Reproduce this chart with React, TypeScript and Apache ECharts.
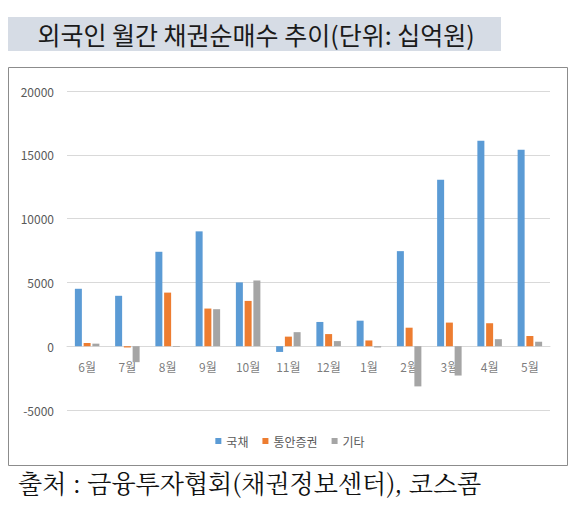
import React, { useEffect, useRef } from 'react';
import * as echarts from 'echarts';

const months = ['6월', '7월', '8월', '9월', '10월', '11월', '12월', '1월', '2월', '3월', '4월', '5월'];
const govBonds = [4500, 3950, 7400, 9000, 5000, -450, 1900, 2000, 7450, 13050, 16100, 15400];
const msb = [250, -100, 4200, 2950, 3550, 750, 950, 450, 1450, 1850, 1800, 800];
const others = [200, -1250, -50, 2900, 5150, 1100, 400, -100, -3150, -2300, 550, 350];
const seriesNames = ['국채', '통안증권', '기타'];
const seriesColors = ['#5b9bd5', '#ed7d31', '#a5a5a5'];

const SANS = '"Noto Sans CJK KR", "Noto Sans", sans-serif';

const App: React.FC = () => {
  const chartRef = useRef<HTMLDivElement | null>(null);

  useEffect(() => {
    if (!chartRef.current) return;
    const chart = echarts.init(chartRef.current, null, { renderer: 'svg' });

    const values = [govBonds, msb, others];

    const barSeries = seriesNames.map((name, i) => ({
      name,
      type: 'bar' as const,
      data: values[i],
      barWidth: 7,
      barGap: '25%',
      itemStyle: { color: seriesColors[i] },
      z: 3,
    }));

    // month labels sit just under the zero line, as in the original
    const monthLabels = {
      name: 'monthLabels',
      type: 'scatter' as const,
      data: months.map((m) => [m, 0]),
      symbolSize: 0,
      silent: true,
      z: 2,
      label: {
        show: true,
        position: 'bottom' as const,
        distance: 14,
        formatter: (p: any) => p.value[0],
        color: '#595959',
        fontSize: 12,
        fontFamily: SANS,
      },
    };

    const option: echarts.EChartsOption = {
      animation: false,
      backgroundColor: '#ffffff',
      textStyle: { fontFamily: SANS },
      graphic: [
        {
          type: 'rect',
          shape: { x: 8, y: 17, width: 493, height: 34 },
          style: { fill: '#d6dce5' },
          z: 0,
        },
        {
          type: 'text',
          x: 256,
          y: 34,
          style: {
            text: '외국인 월간 채권순매수 추이(단위: 십억원)',
            font: '25px ' + SANS,
            fill: '#1a1a1a',
            align: 'center',
            verticalAlign: 'middle',
          },
          z: 1,
        },
        {
          type: 'rect',
          shape: { x: 8.5, y: 67.5, width: 559, height: 398 },
          style: { fill: 'none', stroke: '#8c8c8c', lineWidth: 1 },
          z: 0,
        },
        {
          type: 'text',
          x: 18,
          y: 482,
          style: {
            text: '출처 : 금융투자협회(채권정보센터), 코스콤',
            font: '25px "Noto Serif CJK KR", serif, ' + SANS,
            fill: '#111111',
            align: 'left',
            verticalAlign: 'middle',
          },
          z: 1,
        },
      ],
      legend: {
        data: seriesNames,
        top: 430,
        left: 'center',
        icon: 'rect',
        itemWidth: 6,
        itemHeight: 6,
        itemGap: 14,
        textStyle: { color: '#595959', fontSize: 12, fontFamily: SANS },
      },
      grid: { left: 67, right: 30, top: 91, bottom: 96 },
      xAxis: {
        type: 'category',
        data: months,
        axisLine: { onZero: true, lineStyle: { color: '#d9d9d9' } },
        axisTick: { show: false },
        axisLabel: { show: false },
      },
      yAxis: {
        type: 'value',
        min: -5000,
        max: 20000,
        interval: 5000,
        axisLine: { show: false },
        axisTick: { show: false },
        axisLabel: {
          color: '#595959',
          fontSize: 12,
          margin: 13,
          fontFamily: SANS,
          formatter: (v: number) => String(v),
        },
        splitLine: { lineStyle: { color: '#d9d9d9' } },
      },
      series: [...barSeries, monthLabels],
    };

    chart.setOption(option);
    return () => {
      chart.dispose();
    };
  }, []);

  return (
    <div
      ref={chartRef}
      style={{ position: 'fixed', left: 0, top: 0, width: '580px', height: '506px' }}
    />
  );
};

export default App;
